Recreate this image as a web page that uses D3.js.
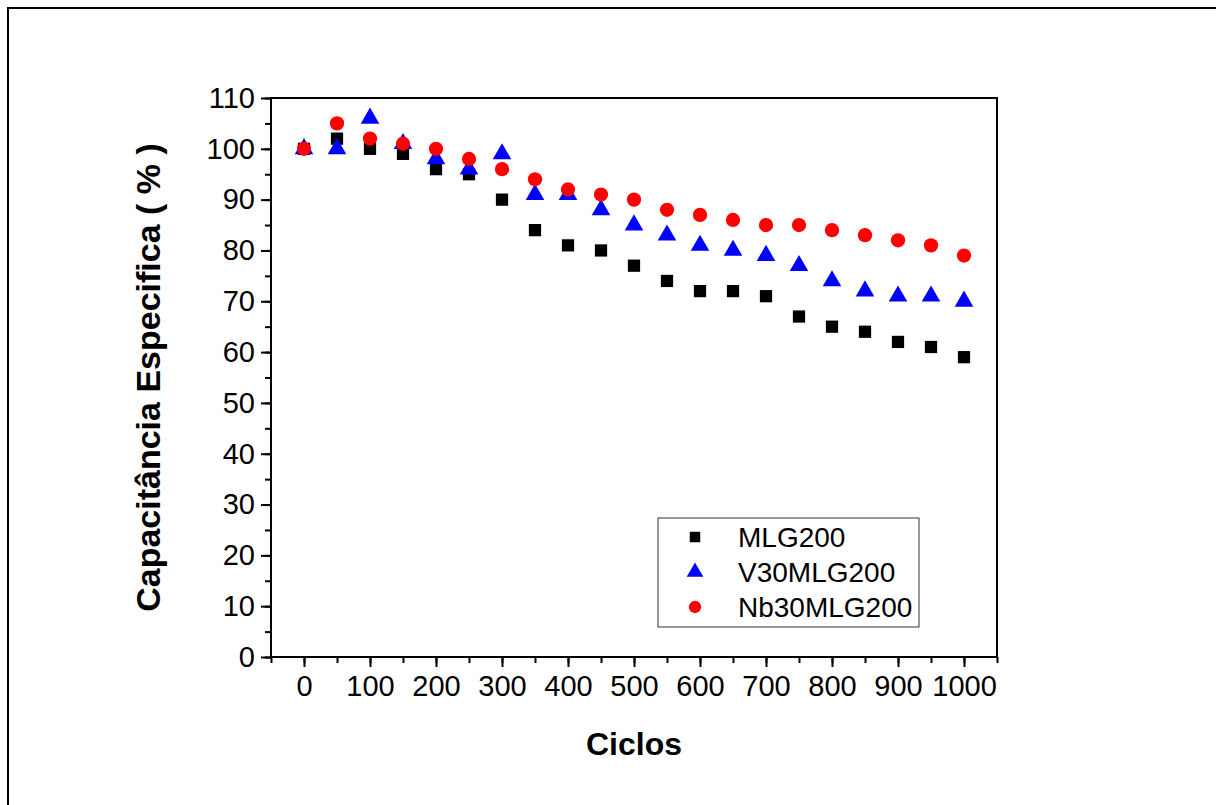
<!DOCTYPE html>
<html>
<head>
<meta charset="utf-8">
<script src="https://cdn.jsdelivr.net/npm/d3@7"></script>
<style>
  body { margin: 0; background: #fff; }
  text { font-family: "Liberation Sans", Arial, sans-serif; }
</style>
</head>
<body>
<svg width="1216" height="805"></svg>
<script>
const svg = d3.select("svg");
const width = +svg.attr("width");
const height = +svg.attr("height");

// data
const ciclos = [0, 50, 100, 150, 200, 250, 300, 350, 400, 450, 500, 550, 600, 650, 700, 750, 800, 850, 900, 950, 1000];
const mlg200 = [100, 102, 100, 99, 96, 95, 90, 84, 81, 80, 77, 74, 72, 72, 71, 67, 65, 64, 62, 61, 59];
const v30mlg200 = [100, 100, 106, 101, 98, 96, 99, 91, 91, 88, 85, 83, 81, 80, 79, 77, 74, 72, 71, 71, 70];
const nb30mlg200 = [100, 105, 102, 101, 100, 98, 96, 94, 92, 91, 90, 88, 87, 86, 85, 85, 84, 83, 82, 81, 79];
const seriesNames = ["MLG200", "V30MLG200", "Nb30MLG200"];
const xTicks = [0, 100, 200, 300, 400, 500, 600, 700, 800, 900, 1000];
const yTicks = [0, 10, 20, 30, 40, 50, 60, 70, 80, 90, 100, 110];

const margin = {top: 98, right: 219, bottom: 148, left: 271};

const x = d3.scaleLinear()
  .domain([-50, 1050])
  .range([margin.left, width - margin.right]);
const y = d3.scaleLinear()
  .domain([0, 110])
  .range([height - margin.bottom, margin.top]);

// outer frame (only top and left edges visible)
svg.append("path")
  .attr("d", `M8,${height} V8 H${width}`)
  .attr("fill", "none")
  .attr("stroke", "black")
  .attr("stroke-width", 2);

// plot box
svg.append("rect")
  .attr("x", x.range()[0])
  .attr("y", y.range()[1])
  .attr("width", x.range()[1] - x.range()[0])
  .attr("height", y.range()[0] - y.range()[1])
  .attr("fill", "none")
  .attr("stroke", "black")
  .attr("stroke-width", 2);

// minor ticks
svg.append("g")
  .attr("transform", `translate(0,${y.range()[0]})`)
  .call(d3.axisBottom(x).tickValues(d3.range(-50, 1051, 50)).tickSize(6).tickSizeOuter(0).tickFormat(""))
  .call(g => g.select(".domain").remove())
  .call(g => g.selectAll("line").attr("stroke-width", 2));
svg.append("g")
  .attr("transform", `translate(${x.range()[0]},0)`)
  .call(d3.axisLeft(y).tickValues(d3.range(0, 111, 5)).tickSize(6).tickSizeOuter(0).tickFormat(""))
  .call(g => g.select(".domain").remove())
  .call(g => g.selectAll("line").attr("stroke-width", 2));

// major ticks + labels
const xAxis = svg.append("g")
  .attr("transform", `translate(0,${y.range()[0]})`)
  .call(d3.axisBottom(x).tickValues(xTicks).tickFormat(d3.format("d"))
    .tickSize(10).tickSizeOuter(0).tickPadding(8));
xAxis.select(".domain").remove();
xAxis.selectAll("line").attr("stroke-width", 2);
xAxis.selectAll("text").attr("font-size", 29).attr("fill", "black")
  .attr("font-family", "Liberation Sans, Arial, sans-serif");

const yAxis = svg.append("g")
  .attr("transform", `translate(${x.range()[0]},0)`)
  .call(d3.axisLeft(y).tickValues(yTicks).tickFormat(d3.format("d"))
    .tickSize(10).tickSizeOuter(0).tickPadding(6));
yAxis.select(".domain").remove();
yAxis.selectAll("line").attr("stroke-width", 2);
yAxis.selectAll("text").attr("font-size", 29).attr("fill", "black")
  .attr("font-family", "Liberation Sans, Arial, sans-serif");

// axis titles
svg.append("text")
  .attr("x", (x.range()[0] + x.range()[1]) / 2)
  .attr("y", 755)
  .attr("text-anchor", "middle")
  .attr("font-size", 32)
  .attr("font-weight", "bold")
  .text("Ciclos");

svg.append("text")
  .attr("transform", `translate(160,${(y.range()[0] + y.range()[1]) / 2}) rotate(-90)`)
  .attr("text-anchor", "middle")
  .attr("font-size", 34)
  .attr("font-weight", "bold")
  .text("Capacitância Especifica ( % )");

// markers
const sq = d3.symbol().type(d3.symbolSquare).size(150);
const tri = d3.symbol().type(d3.symbolTriangle).size(150);
const circ = d3.symbol().type(d3.symbolCircle).size(160);

const series = [
  {name: seriesNames[0], values: mlg200, color: "#000000", sym: sq},
  {name: seriesNames[1], values: v30mlg200, color: "#0000ff", sym: tri},
  {name: seriesNames[2], values: nb30mlg200, color: "#ff0000", sym: circ}
];

series.forEach(s => {
  svg.append("g")
    .selectAll("path")
    .data(ciclos)
    .enter()
    .append("path")
    .attr("d", s.sym)
    .attr("transform", (d, i) => `translate(${x(d)},${y(s.values[i])})`)
    .attr("fill", s.color);
});

// legend
const legend = svg.append("g").attr("transform", "translate(658,518)");
legend.append("rect")
  .attr("width", 261)
  .attr("height", 109)
  .attr("fill", "white")
  .attr("stroke", "#333")
  .attr("stroke-width", 1);

const items = legend.selectAll("g.item")
  .data(series)
  .enter()
  .append("g")
  .attr("class", "item")
  .attr("transform", (d, i) => `translate(0, ${19 + i * 35})`);

items.append("path")
  .attr("d", (d, i) => [d3.symbol().type(d3.symbolSquare).size(110),
                        d3.symbol().type(d3.symbolTriangle).size(120),
                        d3.symbol().type(d3.symbolCircle).size(120)][i]())
  .attr("transform", "translate(37,0)")
  .attr("fill", d => d.color);

items.append("text")
  .attr("x", 80)
  .attr("y", 10)
  .attr("font-size", 28)
  .text(d => d.name);
</script>
</body>
</html>
